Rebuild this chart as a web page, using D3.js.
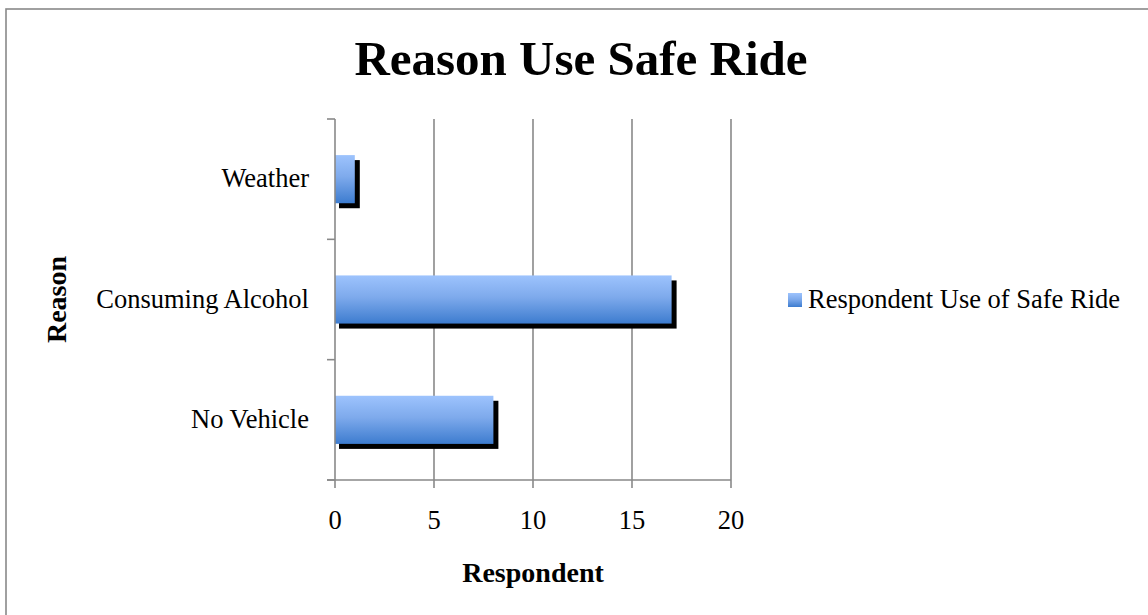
<!DOCTYPE html>
<html>
<head>
<meta charset="utf-8">
<script src="https://cdn.jsdelivr.net/npm/d3@7"></script>
<style>
  html, body { margin: 0; padding: 0; background: #fff; }
  svg { display: block; }
  text { font-family: "Liberation Serif", "Times New Roman", serif; fill: #000; }
</style>
</head>
<body>
<svg id="chart" width="1148" height="615"></svg>
<script>
// Reasons for using Safe Ride, number of respondents per reason
const categories = ["Weather", "Consuming Alcohol", "No Vehicle"];
const values = [1, 17, 8];
const xTicks = [0, 5, 10, 15, 20];
const seriesName = "Respondent Use of Safe Ride";
const chartTitle = "Reason Use Safe Ride";
const xTitle = "Respondent";
const yTitle = "Reason";

const svg = d3.select("#chart");
const W = 1148, H = 615;
const plot = { left: 335, right: 731, top: 119, bottom: 480 };
const gridColor = "#898989";

// outer chart frame
svg.append("rect")
  .attr("x", 6).attr("y", 9)
  .attr("width", W + 20).attr("height", H + 20)
  .attr("fill", "#fff")
  .attr("stroke", gridColor).attr("stroke-width", 1.6);

// bar gradient
const defs = svg.append("defs");
const grad = defs.append("linearGradient")
  .attr("id", "barFill").attr("x1", 0).attr("y1", 0).attr("x2", 0).attr("y2", 1);
grad.append("stop").attr("offset", "0%").attr("stop-color", "#9dc3fd");
grad.append("stop").attr("offset", "45%").attr("stop-color", "#7eaaec");
grad.append("stop").attr("offset", "100%").attr("stop-color", "#3d7ccf");

const x = d3.scaleLinear().domain([0, 20]).range([plot.left, plot.right]);
const y = d3.scaleBand().domain(categories)
  .range([plot.top, plot.bottom]).paddingInner(0.6).paddingOuter(0.3);
const yEdges = d3.scaleLinear().domain([0, categories.length]).range([plot.top, plot.bottom]);

// vertical gridlines
svg.append("g").selectAll("line")
  .data(xTicks.filter(d => d > 0))
  .join("line")
  .attr("x1", d => x(d)).attr("x2", d => x(d))
  .attr("y1", plot.top).attr("y2", plot.bottom)
  .attr("stroke", gridColor).attr("stroke-width", 1.6);

// bar shadows
const shadow = 5;
svg.append("g").selectAll("rect")
  .data(values)
  .join("rect")
  .attr("x", x(0) + shadow - 1)
  .attr("y", (d, i) => y(categories[i]) + shadow)
  .attr("width", d => x(d) - x(0) - shadow + 1 + shadow)
  .attr("height", y.bandwidth())
  .attr("fill", "#000");

// bars
svg.append("g").selectAll("rect")
  .data(values)
  .join("rect")
  .attr("x", x(0))
  .attr("y", (d, i) => y(categories[i]))
  .attr("width", d => x(d) - x(0))
  .attr("height", y.bandwidth())
  .attr("fill", "url(#barFill)");

// y axis line with category-boundary ticks
const yAxis = svg.append("g");
yAxis.append("line")
  .attr("x1", plot.left).attr("x2", plot.left)
  .attr("y1", plot.top).attr("y2", plot.bottom)
  .attr("stroke", gridColor).attr("stroke-width", 1.6);
yAxis.selectAll("line.tick")
  .data(d3.range(categories.length + 1))
  .join("line").attr("class", "tick")
  .attr("x1", plot.left - 8).attr("x2", plot.left)
  .attr("y1", d => yEdges(d)).attr("y2", d => yEdges(d))
  .attr("stroke", gridColor).attr("stroke-width", 1.6);
yAxis.selectAll("text")
  .data(categories)
  .join("text")
  .attr("x", 309)
  .attr("y", d => y(d) + y.bandwidth() / 2 + 8)
  .attr("text-anchor", "end")
  .attr("font-size", 26.5)
  .text(d => d);

// x axis line with ticks
const xAxis = svg.append("g");
xAxis.append("line")
  .attr("x1", plot.left - 8).attr("x2", plot.right)
  .attr("y1", plot.bottom).attr("y2", plot.bottom)
  .attr("stroke", gridColor).attr("stroke-width", 1.6);
xAxis.selectAll("line.tick")
  .data(xTicks)
  .join("line").attr("class", "tick")
  .attr("x1", d => x(d)).attr("x2", d => x(d))
  .attr("y1", plot.bottom).attr("y2", plot.bottom + 8)
  .attr("stroke", gridColor).attr("stroke-width", 1.6);
xAxis.selectAll("text")
  .data(xTicks)
  .join("text")
  .attr("x", d => x(d))
  .attr("y", 529)
  .attr("text-anchor", "middle")
  .attr("font-size", 26.5)
  .text(d => d);

// titles
svg.append("text")
  .attr("x", 581).attr("y", 75)
  .attr("text-anchor", "middle")
  .attr("font-size", 49).attr("font-weight", "bold")
  .text(chartTitle);

svg.append("text")
  .attr("x", (plot.left + plot.right) / 2).attr("y", 582)
  .attr("text-anchor", "middle")
  .attr("font-size", 28).attr("font-weight", "bold")
  .text(xTitle);

svg.append("text")
  .attr("transform", `translate(66,${(plot.top + plot.bottom) / 2}) rotate(-90)`)
  .attr("text-anchor", "middle")
  .attr("font-size", 28).attr("font-weight", "bold")
  .text(yTitle);

// legend
const legend = svg.append("g").attr("transform", "translate(788,293)");
legend.append("rect")
  .attr("x", 0).attr("y", 0).attr("width", 14).attr("height", 14)
  .attr("fill", "url(#barFill)");
legend.append("text")
  .attr("x", 20).attr("y", 15)
  .attr("font-size", 26.5)
  .text(seriesName);
</script>
</body>
</html>
